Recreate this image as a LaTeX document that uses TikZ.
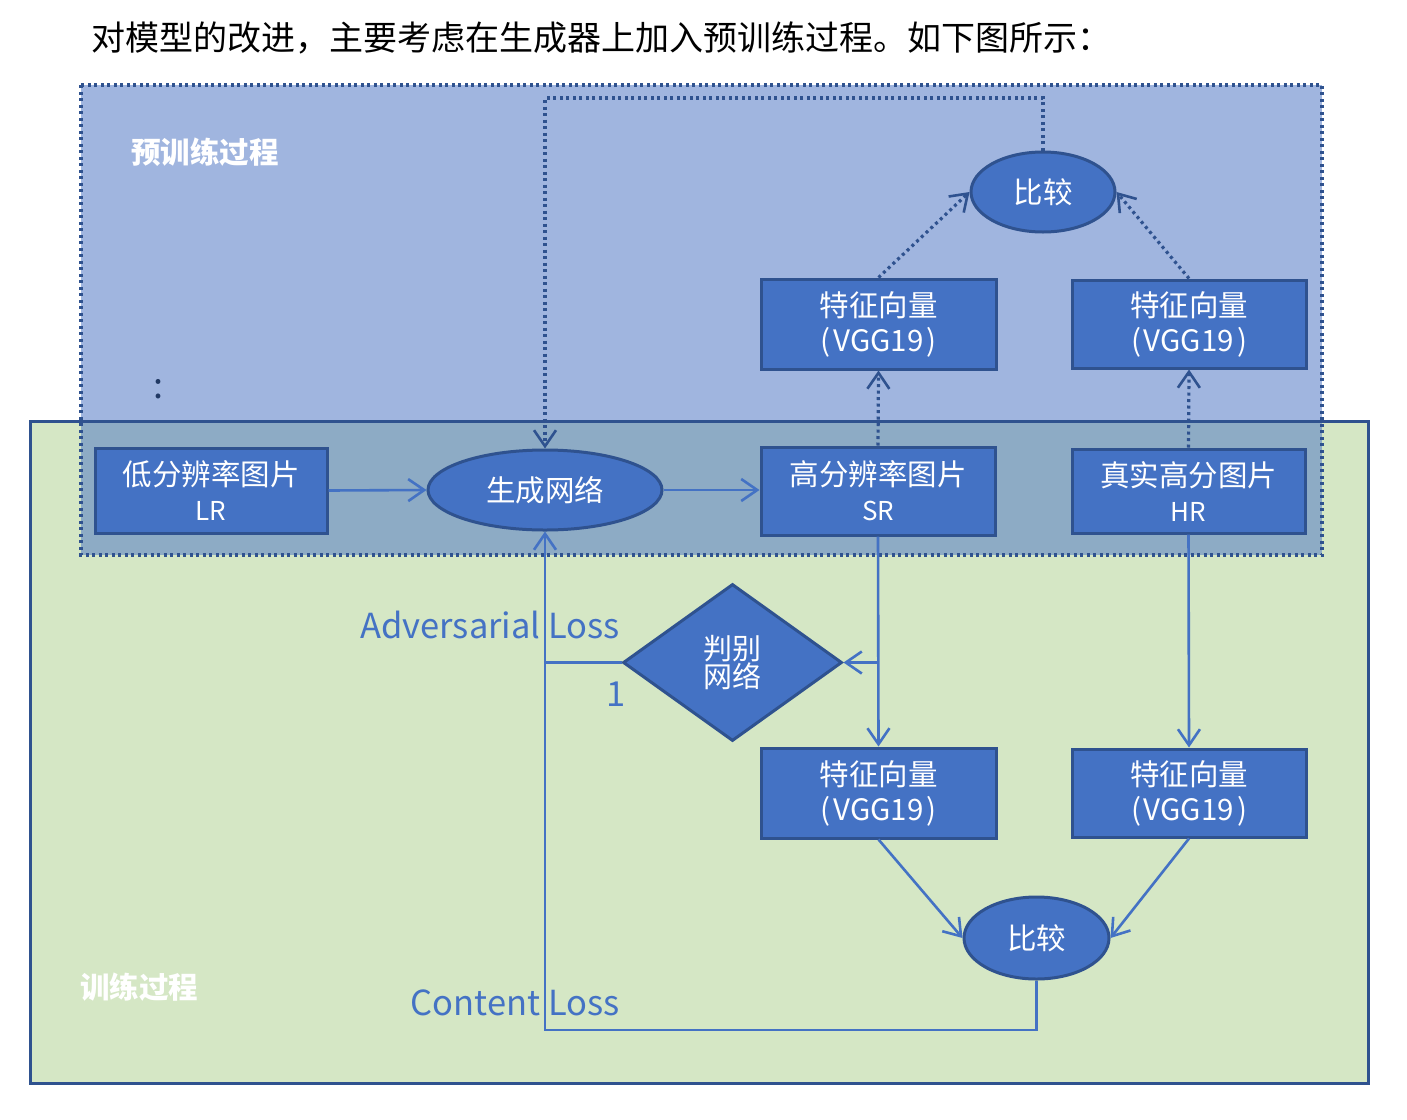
\documentclass[tikz,border=0pt]{standalone}
\usepackage{fontspec}
\setmainfont{Noto Sans CJK SC}
\usetikzlibrary{shapes.geometric,arrows.meta}
\definecolor{boxblue}{HTML}{4472C4}
\definecolor{darkblue}{HTML}{2F528F}
\definecolor{regblue}{RGB}{82,122,197}
\definecolor{reggreen}{RGB}{213,231,197}
\newcommand{\fsz}[1]{\fontsize{#1}{#1}\selectfont}
\begin{document}
\begin{tikzpicture}[x=1pt,y=-1pt,
  box/.style={draw=darkblue, line width=3pt, fill=boxblue, text=white, inner sep=0pt, align=center,
    font=\fontsize{29.5}{35}\selectfont},
  oval/.style={ellipse, draw=darkblue, line width=3pt, fill=boxblue, text=white, inner sep=0pt,
    font=\fsz{29.5}},
  tip/.style={-{Straight Barb[length=16pt,width=22pt,line width=2.6pt]}},
  conn/.style={draw=boxblue, line width=2.6pt},
  dconn/.style={draw=darkblue, line width=3.2pt, dash pattern=on 3pt off 3.5pt},
  loss/.style={text=boxblue, font=\fsz{34.5}, inner sep=0pt}
]
\useasboundingbox (0,0) rectangle (1407,1119);
\fill[white] (0,0) rectangle (1407,1119);

% regions
\fill[reggreen] (30,421) rectangle (1368,1083);
\fill[regblue, opacity=0.55] (81,85) rectangle (1322,555);
\draw[darkblue, line width=3pt] (30,421) rectangle (1368,1083);
\draw[dconn] (81,85) rectangle (1322,555);

% title
\node[anchor=west, inner sep=0pt, font=\fsz{34}] (title) at (91,38) {对模型的改进，主要考虑在生成器上加入预训练过程。如下图所示：};

% region labels
\node[anchor=west, inner sep=0pt, text=white, font=\fsz{29.5}\bfseries] (pretitle) at (131,152) {预训练过程};
\node[anchor=west, inner sep=0pt, text=white, font=\fsz{29.5}\bfseries] (traintitle) at (80,987) {训练过程};
\node[inner sep=0pt, text=darkblue!70!black, font=\fsz{36}] (colon) at (159,389) {:};

% nodes
\node[box, minimum width=232pt, minimum height=85pt] (LR) at (211,490.5) {低分辨率图片\\\fsz{26}LR};
\node[oval, minimum width=234pt, minimum height=80pt] (gen) at (545,490) {生成网络};
\node[box, minimum width=234pt, minimum height=88pt] (SR) at (878,491) {高分辨率图片\\\fsz{26}SR};
\node[box, minimum width=233pt, minimum height=84pt] (HR) at (1188.5,491) {真实高分图片\\\fsz{26}HR};
\node[box, minimum width=235pt, minimum height=90pt] (vggA) at (878.5,324) {特征向量\\(\hspace{3pt}VGG19\hspace{3pt})};
\node[box, minimum width=234pt, minimum height=88pt] (vggB) at (1189,324) {特征向量\\(\hspace{3pt}VGG19\hspace{3pt})};
\node[oval, minimum width=144pt, minimum height=80pt] (cmpTop) at (1043,192) {比较};
\node[diamond, draw=darkblue, line width=3pt, fill=boxblue, text=white, inner sep=0pt, align=center,
  minimum width=219pt, minimum height=157pt, font=\fontsize{29}{28}\selectfont] (disc) at (732.5,662.5) {判别\\网络};
\node[box, minimum width=235pt, minimum height=90pt] (vggC) at (878.5,793) {特征向量\\(\hspace{3pt}VGG19\hspace{3pt})};
\node[box, minimum width=234pt, minimum height=88pt] (vggD) at (1189,793) {特征向量\\(\hspace{3pt}VGG19\hspace{3pt})};
\node[oval, minimum width=145pt, minimum height=82pt] (cmpBot) at (1036.5,938) {比较};

% loss labels
\node[loss, anchor=east] (adv) at (620,625) {Adversarial Loss};
\node[loss, anchor=east] (content) at (620,1003) {Content Loss};
\node[loss] (one) at (616,694) {1};

% coordinates
\coordinate (topY) at (0,98);
\coordinate (botY) at (0,1030);
\coordinate (branch) at (SR.south |- disc.east);

% connectors
\draw[conn, tip] (LR.east) -- (gen.west);
\draw[conn, tip] (gen.east) -- (SR.west |- gen.east);
\draw[dconn, tip] (SR.north) -- (vggA.south);
\draw[dconn, tip] (HR.north) -- (vggB.south);
\draw[dconn, tip] (vggA.north) -- (cmpTop.west);
\draw[dconn, tip] (vggB.north) -- (cmpTop.east);
\draw[dconn, tip] (cmpTop.north) -- (cmpTop.north |- topY) -| (gen.north);
\draw[conn, tip] (SR.south) -- (vggC.north);
\draw[conn, tip] (branch) -- (disc.east);
\draw[conn, tip] (HR.south) -- (vggD.north);
\draw[conn, tip] (vggC.south) -- (cmpBot.west);
\draw[conn, tip] (vggD.south) -- (cmpBot.east);
\draw[conn, tip] (cmpBot.south) -- (cmpBot.south |- botY) -| (gen.south);
\draw[conn] (disc.west) -- (gen.south |- disc.west);
\end{tikzpicture}
\end{document}
